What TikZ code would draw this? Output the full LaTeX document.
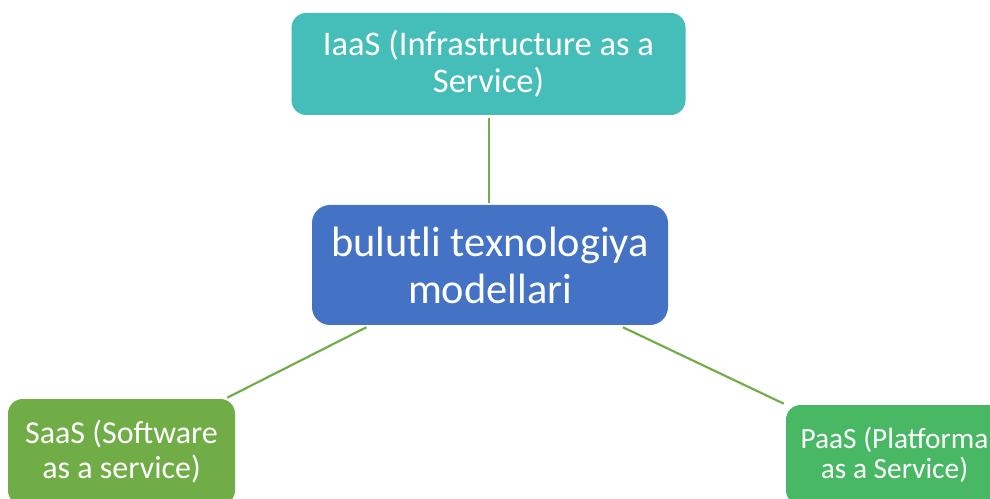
\documentclass[tikz,border=0pt]{standalone}
\usepackage{fontspec}
\setmainfont{Carlito}
\definecolor{iaasteal}{HTML}{45BEB9}
\definecolor{hubblue}{HTML}{4472C4}
\definecolor{saasgreen}{HTML}{70AD47}
\definecolor{paasgreen}{HTML}{48B865}
\definecolor{linkgreen}{HTML}{70AD47}
\tikzset{
  box/.style={rectangle, rounded corners=11pt, text=white, align=center, inner sep=0pt},
  link/.style={draw=linkgreen, line width=1.6pt}
}
\begin{document}
\begin{tikzpicture}[x=0.75pt,y=-0.75pt]
  \useasboundingbox (0,0) rectangle (990,499);
  \clip (0,0) rectangle (990,499);
  \fill[white] (0,0) rectangle (990,499);

  % central node
  \node[box, fill=hubblue, rounded corners=13.5pt, minimum width=267pt, minimum height=90pt,
        font=\fontsize{31.8pt}{35.25pt}\selectfont] (hub) at (490,265)
        {bulutli texnologiya\\modellari};

  % the three service models
  \node[box, fill=iaasteal, minimum width=295.5pt, minimum height=76.5pt,
        font=\fontsize{25.9pt}{27.75pt}\selectfont] (iaas) at (488.5,64)
        {IaaS (Infrastructure as a\\Service)};
  \node[box, fill=saasgreen, minimum width=170.25pt, minimum height=79.5pt,
        font=\fontsize{24pt}{26.25pt}\selectfont] (saas) at (121.5,452)
        {SaaS (Software\\as a service)};
  \node[box, fill=paasgreen, minimum width=162.75pt, minimum height=75pt,
        font=\fontsize{22pt}{22.5pt}\selectfont] (paas) at (894.5,455)
        {PaaS (Platforma\\as a Service)};

  % connectors
  \draw[link, shorten <=2.2pt, shorten >=1.5pt] ([xshift=0.4pt]iaas.south) -- ([xshift=0.4pt]iaas.south |- hub.north);
  \draw[link] ([xshift=41pt,yshift=-1.5pt]hub.south west) -- ([xshift=-6pt,yshift=0.8pt]saas.north east);
  \draw[link] ([xshift=-34pt,yshift=-1.5pt]hub.south east) -- ([xshift=-1.5pt,yshift=0.8pt]paas.north west);
\end{tikzpicture}
\end{document}
